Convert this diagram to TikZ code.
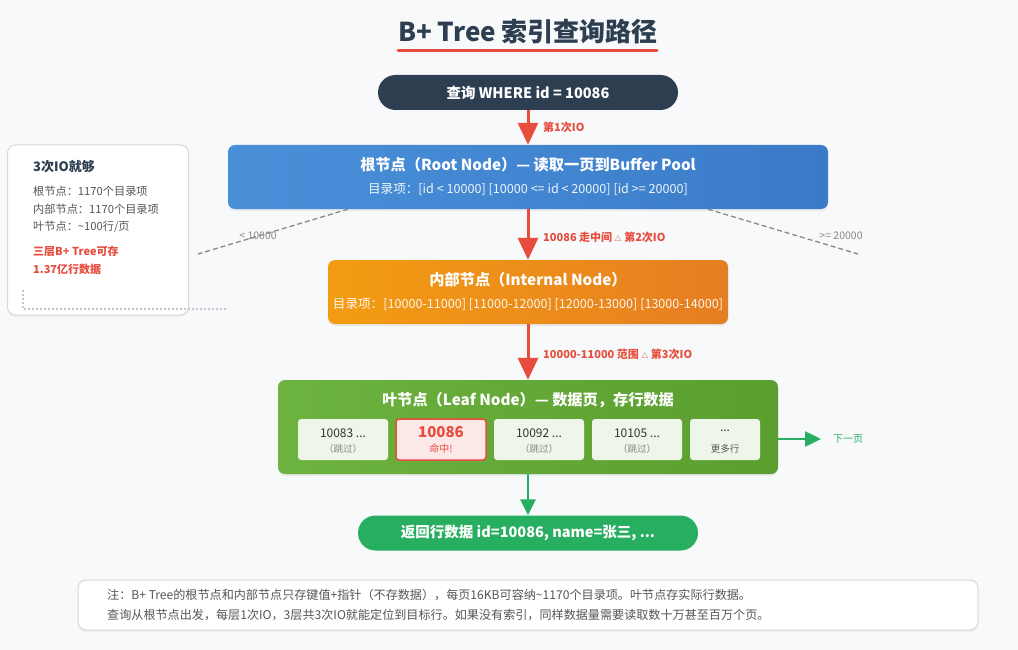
\documentclass[tikz,border=0pt]{standalone}
\usepackage{fontspec}
\setmainfont{Noto Sans CJK SC}
\usetikzlibrary{positioning,shadows,arrows.meta}

\definecolor{navy}{HTML}{2C3E50}
\definecolor{hitred}{HTML}{E74C3C}
\definecolor{rootA}{HTML}{4A90D9}
\definecolor{rootB}{HTML}{3A7BC8}
\definecolor{intA}{HTML}{F39C12}
\definecolor{intB}{HTML}{E67E22}
\definecolor{leafA}{HTML}{6DB33F}
\definecolor{leafB}{HTML}{5A9E2F}
\definecolor{okgreen}{HTML}{27AE60}
\definecolor{bgpage}{HTML}{F8F9FB}
\definecolor{cellbg}{HTML}{EEF6E9}
\definecolor{hitbg}{HTML}{FDE8E8}
\definecolor{txtdark}{HTML}{333333}
\definecolor{txtgray}{HTML}{555555}
\definecolor{lnggray}{HTML}{888888}
\definecolor{boxline}{HTML}{D5D8DC}

\newcommand{\pxsize}[1]{\fontsize{#1}{#1}\selectfont}

\tikzset{
  pill/.style={rounded corners=17.5pt, minimum height=35pt, text=white, font=\pxsize{14.5}\bfseries, inner sep=0pt},
  level/.style={rounded corners=7pt, inner sep=0pt, drop shadow={opacity=0.12, shadow xshift=0pt, shadow yshift=-2pt}},
  ttl/.style={text=white, font=\pxsize{15.2}\bfseries, inner sep=0pt},
  sub/.style={text=white, text opacity=0.92, font=\pxsize{12.6}, inner sep=0pt},
  cell/.style={fill=cellbg, rounded corners=3pt, minimum height=41pt, inner sep=0pt},
  cellkey/.style={text=txtdark, font=\pxsize{12}, inner sep=0pt},
  cellnote/.style={text=lnggray, font=\pxsize{9.5}, inner sep=0pt},
  io/.style={draw=hitred, line width=3pt, -{Triangle[length=22pt,width=20pt]}},
  iolbl/.style={text=hitred, font=\pxsize{11}\bfseries, anchor=west, inner sep=0pt},
  go/.style={draw=okgreen, line width=2.5pt, -{Triangle[length=16pt,width=15pt]}},
  split/.style={draw=lnggray, line width=1.3pt, dash pattern=on 5pt off 3pt},
  splitlbl/.style={text=lnggray, font=\pxsize{10.5}, inner sep=0pt},
  infoln/.style={anchor=west, text=txtgray, font=\pxsize{11.2}, inner sep=0pt},
  infored/.style={anchor=west, text=hitred, font=\pxsize{11}\bfseries, inner sep=0pt},
  panel/.style={fill=white, draw=boxline, line width=1pt, rounded corners=8pt, inner sep=0pt,
                drop shadow={opacity=0.08, shadow xshift=0pt, shadow yshift=-2pt}},
}

\begin{document}
\begin{tikzpicture}[x=1pt,y=-1pt]
  % page
  \fill[bgpage] (0,0) rectangle (1018,650);
  \useasboundingbox (0,0) rectangle (1018,650);

  % title
  \node[text=navy, font=\pxsize{26}\bfseries, inner sep=0pt] (title) at (528,32) {B+ Tree 索引查询路径};
  \draw[hitred, line width=3pt, line cap=round] (398,51) -- (657,51);

  % query
  \node[pill, fill=navy, minimum width=300pt] (query) at (528,92.5) {查询 WHERE id = 10086};

  % root node
  \node[level, left color=rootA, right color=rootB, minimum width=600pt, minimum height=64pt] (root) at (528,177) {};
  \node[ttl] (rootttl) at (528,165) {根节点（Root Node）— 读取一页到Buffer Pool};
  \node[sub] (rootsub) at (528,189.5) {目录项：[id < 10000] [10000 <= id < 20000] [id >= 20000]};

  % internal node
  \node[level, left color=intA, right color=intB, minimum width=400pt, minimum height=64pt] (inner) at (528,292) {};
  \node[ttl] (innerttl) at (528,280) {内部节点（Internal Node）};
  \node[sub] (innersub) at (528,305) {目录项：[10000-11000] [11000-12000] [12000-13000] [13000-14000]};

  % leaf node
  \node[level, left color=leafA, right color=leafB, minimum width=500pt, minimum height=94pt] (leaf) at (528,427) {};
  \node[ttl] (leafttl) at (528,400) {叶节点（Leaf Node）— 数据页，存行数据};

  \foreach \nm/\cx/\key in {ca/343/10083, cc/539/10092, cd/637/10105}{
    \node[cell, minimum width=90pt] (\nm) at (\cx,439.5) {};
    \node[cellkey] (\nm key) at (\cx,433) {\key\ ...};
    \node[cellnote] (\nm note) at (\cx,449) {（跳过）};
  }
  \node[cell, fill=hitbg, draw=hitred, line width=1.5pt, minimum width=90pt] (cb) at (441,439.5) {};
  \node[text=hitred, font=\pxsize{15}\bfseries, inner sep=0pt] (cbkey) at (441,432) {10086};
  \node[text=hitred, font=\pxsize{10}, inner sep=0pt] (cbnote) at (441,449) {命中!};
  \node[cell, minimum width=70pt] (ce) at (725,439.5) {};
  \node[cellkey] (cekey) at (725,431) {...};
  \node[cellnote, text=txtgray] (cenote) at (725,449) {更多行};

  % result
  \node[pill, fill=okgreen, minimum width=340pt] (ret) at (528,533) {返回行数据 id=10086, name=张三, ...};

  % IO arrows
  \draw[io] (query) -- (root);
  \node[iolbl] (io1) at (543,127) {第1次IO};
  \draw[io] (root) -- (inner);
  \node[iolbl] (io2) at (543,237) {10086 走中间 {\pxsize{7}△} 第2次IO};
  \draw[io] (inner) -- (leaf);
  \node[iolbl] (io3) at (543,354) {10000-11000 范围 {\pxsize{7}△} 第3次IO};

  % branches of the root
  \coordinate (lowend) at (198,254);
  \coordinate (highend) at (858,254);
  \draw[split] ([xshift=-180pt]root.south) -- (lowend);
  \draw[split] ([xshift=180pt]root.south) -- (highend);
  \node[splitlbl] (lowlbl) at (258,236) {< 10000};
  \node[splitlbl] (highlbl) at (841,236) {>= 20000};

  % leaf chain and result
  \coordinate (nextpg) at (821,439);
  \draw[go] ([yshift=-12pt]leaf.east) -- (nextpg);
  \node[anchor=west, text=okgreen, font=\pxsize{10}, inner sep=0pt] (nextlbl) at (833,439) {下一页};
  \draw[go] (leaf) -- (ret);

  % side info
  \node[panel, minimum width=181pt, minimum height=170pt] (info) at (98,230) {};
  \node[anchor=west, text=navy, font=\pxsize{13}\bfseries, inner sep=0pt] (infottl) at (33,167) {3次IO就够};
  \node[infoln] (inf1) at (33,191) {根节点：1170个目录项};
  \node[infoln] (inf2) at (33,209) {内部节点：1170个目录项};
  \node[infoln] (inf3) at (33,227) {叶节点：\textasciitilde100行/页};
  \node[infored] (inf4) at (33,251) {三层B+ Tree可存};
  \node[infored] (inf5) at (33,269) {1.37亿行数据};
  \draw[draw=boxline!80!gray, line width=1.5pt, dash pattern=on 2pt off 2pt] (23,290) -- (23,309) -- (228,309);

  % note
  \node[panel, minimum width=900pt, minimum height=50pt] (note) at (528,605) {};
  \node[infoln, font=\pxsize{12.1}] (note1) at (107,594.5) {注：B+ Tree的根节点和内部节点只存键值+指针（不存数据），每页16KB可容纳\textasciitilde1170个目录项。叶节点存实际行数据。};
  \node[infoln, font=\pxsize{12.1}] (note2) at (107,615) {查询从根节点出发，每层1次IO，3层共3次IO就能定位到目标行。如果没有索引，同样数据量需要读取数十万甚至百万个页。};
\end{tikzpicture}
\end{document}
